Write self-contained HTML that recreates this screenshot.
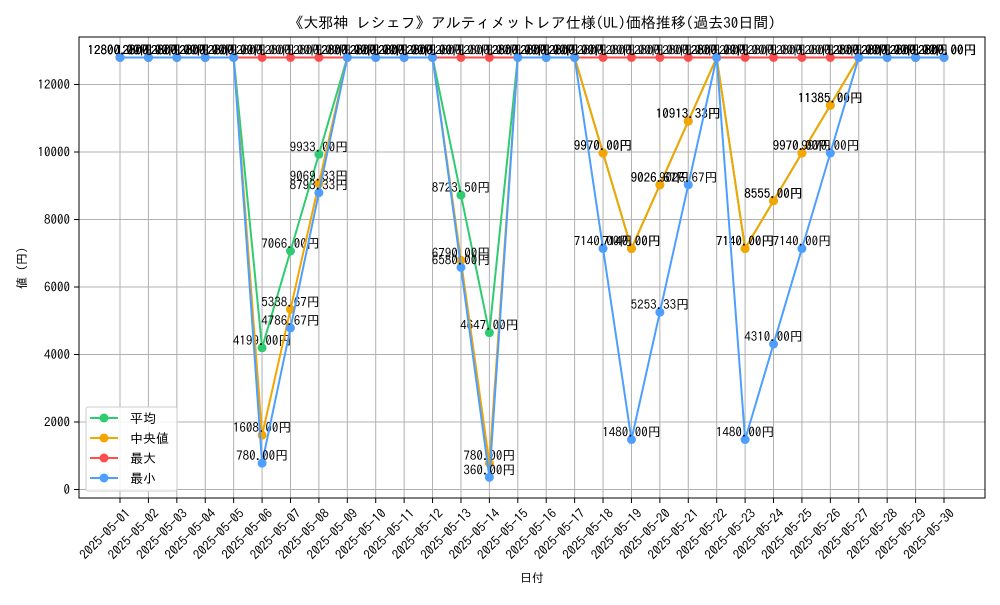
<!DOCTYPE html>
<html><head><meta charset="utf-8"><style>
body{margin:0;background:#fff}
svg text{font-family:"IPAGothic","Noto Sans CJK JP",sans-serif}
</style></head><body>
<svg id="chart" width="1000" height="600" xmlns="http://www.w3.org/2000/svg">
<rect width="1000" height="600" fill="#fff"/>
<text x="532" y="28" text-anchor="middle" font-size="15">《大邪神 レシェフ》アルティメットレア仕様(UL)価格推移(過去30日間)</text>
<g id="grid"></g>
<g id="series"></g>
<rect x="79" y="37" width="906" height="461" fill="none" stroke="#000" stroke-width="1"/>
<g id="axes"></g>
<text x="532" y="582" text-anchor="middle" font-size="12">日付</text>
<text x="26" y="268" text-anchor="middle" font-size="12" transform="rotate(-90 26 268)">値 (円)</text>
<g id="legend"></g>
</svg>
<script>
const dates = ["2025-05-01","2025-05-02","2025-05-03","2025-05-04","2025-05-05","2025-05-06","2025-05-07","2025-05-08","2025-05-09","2025-05-10","2025-05-11","2025-05-12","2025-05-13","2025-05-14","2025-05-15","2025-05-16","2025-05-17","2025-05-18","2025-05-19","2025-05-20","2025-05-21","2025-05-22","2025-05-23","2025-05-24","2025-05-25","2025-05-26","2025-05-27","2025-05-28","2025-05-29","2025-05-30"];
const avgVals = [12800,12800,12800,12800,12800,4199,7066,9933,12800,12800,12800,12800,8723.5,4647,12800,12800,12800,9970,7140,9026.67,10913.33,12800,7140,8555,9970,11385,12800,12800,12800,12800];
const medVals = [12800,12800,12800,12800,12800,1608,5338.67,9069.33,12800,12800,12800,12800,6790,780,12800,12800,12800,9970,7140,9026.67,10913.33,12800,7140,8555,9970,11385,12800,12800,12800,12800];
const maxVals = [12800,12800,12800,12800,12800,12800,12800,12800,12800,12800,12800,12800,12800,12800,12800,12800,12800,12800,12800,12800,12800,12800,12800,12800,12800,12800,12800,12800,12800,12800];
const minVals = [12800,12800,12800,12800,12800,780,4786.67,8793.33,12800,12800,12800,12800,6580,360,12800,12800,12800,7140,1480,5253.33,9026.67,12800,1480,4310,7140,9970,12800,12800,12800,12800];
const yTicks = [0,2000,4000,6000,8000,10000,12000];
const seriesNames = ["平均","中央値","最大","最小"];
const seriesColors = ["#2ecc71","#f5a500","#ff4d4d","#4d9fff"];
const seriesData = [avgVals, medVals, maxVals, minVals];

const NS="http://www.w3.org/2000/svg";
const X0=120, X1=944, Y0=489.5, YK=0.03375;
const x = i => X0 + i*(X1-X0)/(dates.length-1);
const y = v => Y0 - v*YK;
function mk(tag, attrs, parent){const e=document.createElementNS(NS,tag);for(const k in attrs)e.setAttribute(k,attrs[k]);parent.appendChild(e);return e;}
const grid=document.getElementById('grid'), axes=document.getElementById('axes'), ser=document.getElementById('series'), leg=document.getElementById('legend');
dates.forEach((d,i)=>{
  const l=mk('line',{x1:x(i),x2:x(i),y1:37,y2:498,stroke:'#b0b0b0','stroke-width':1},grid);
  
  
  const t=mk('line',{x1:x(i),x2:x(i),y1:498,y2:503,stroke:'#000'},axes);
  
  
  const tx=x(i)+5, ty=508;
  const lb=mk('text',{x:tx,y:ty,'text-anchor':'end','font-size':13,transform:`rotate(-45 ${tx} ${ty})`,'dominant-baseline':'hanging'},axes);
  lb.textContent=d;
  
  
});
yTicks.forEach(v=>{
  const l=mk('line',{x1:79,x2:985,y1:y(v),y2:y(v),stroke:'#b0b0b0','stroke-width':1},grid);
  
  
  const t=mk('line',{x1:74,x2:79,y1:y(v),y2:y(v),stroke:'#000'},axes);
  
  
  const lb=mk('text',{x:70,y:y(v)+4.5,'text-anchor':'end','font-size':13},axes);
  lb.textContent=v;
  
  
});
seriesData.forEach((vals,s)=>{
  const g=mk('g',{},ser);
  
  
  const pl=mk('polyline',{points:vals.map((v,i)=>x(i)+','+y(v)).join(' '),fill:'none',stroke:seriesColors[s],'stroke-width':2},g);
  
  
  vals.forEach((v,i)=>{
    const c=mk('circle',{cx:x(i),cy:y(v),r:4.5,fill:seriesColors[s]},g);
    
    
  });
  vals.forEach((v,i)=>{
    const t=mk('text',{x:x(i),y:y(v)-3,'text-anchor':'middle','font-size':13,fill:'#000'},g);
    t.textContent=v.toFixed(2)+'円';
    
    
  });
});
mk('rect',{x:86,y:407,width:91,height:84,fill:'#fff','fill-opacity':0.85,stroke:'#ccc',rx:2},leg);
seriesNames.forEach((n,s)=>{
  const yy=418+s*20;
  const e=mk('g',{},leg);
  
  
  mk('line',{x1:90,x2:118,y1:yy,y2:yy,stroke:seriesColors[s],'stroke-width':2},e);
  mk('circle',{cx:104,cy:yy,r:4.5,fill:seriesColors[s]},e);
  const t=mk('text',{x:130,y:yy+5,'font-size':13},e);
  t.textContent=n;
});
</script>
</body></html>
